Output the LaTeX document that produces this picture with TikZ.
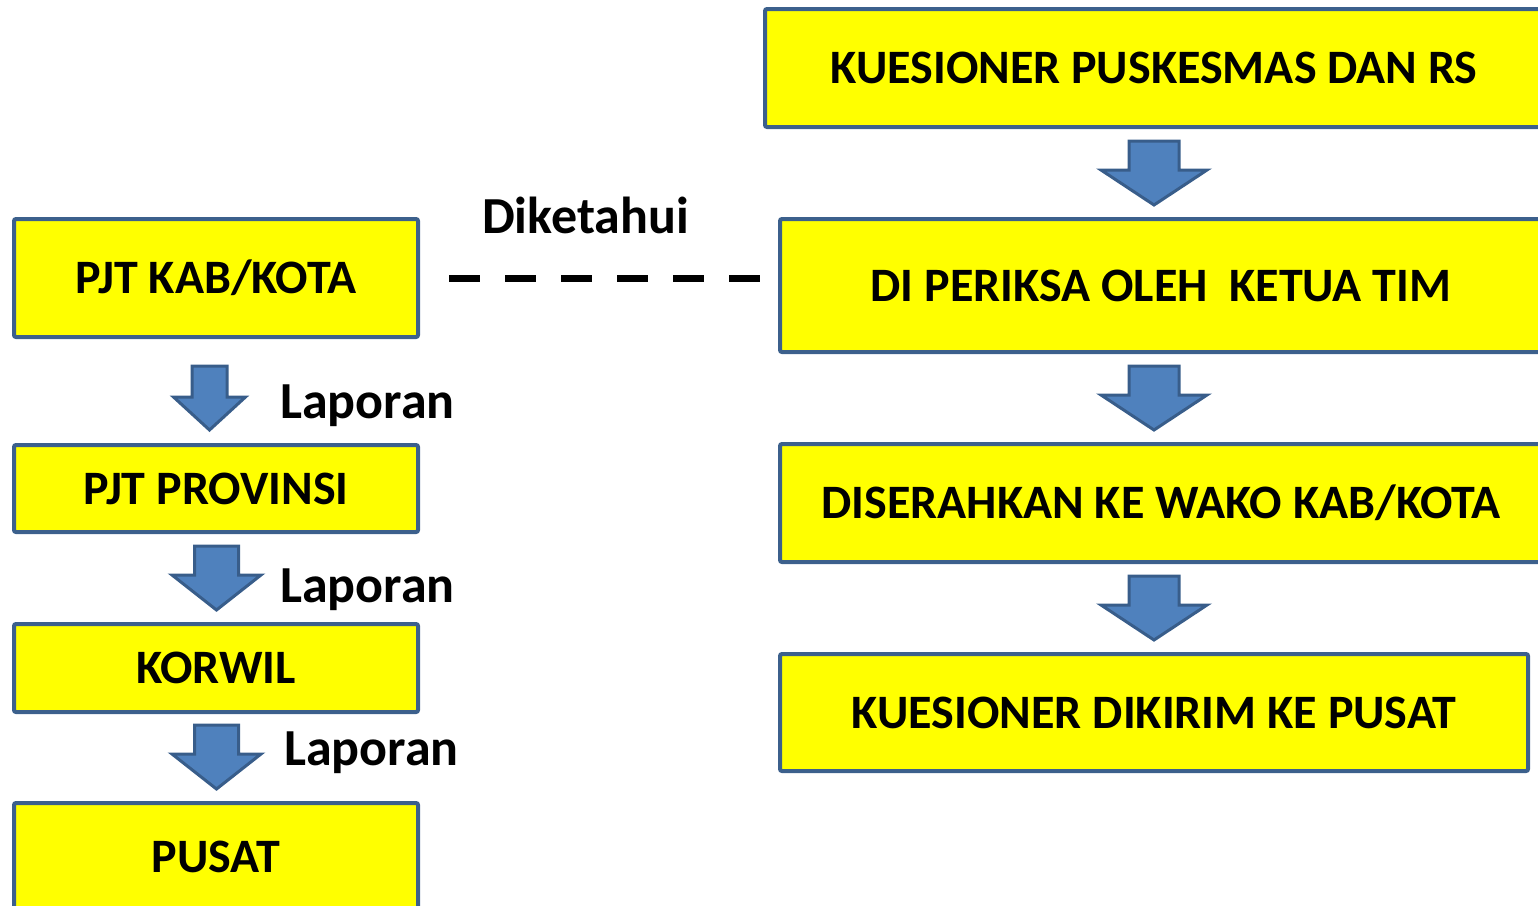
\documentclass[tikz,border=0pt]{standalone}
\usepackage{fontspec}
\setmainfont{Carlito}
\usetikzlibrary{positioning, calc}

\definecolor{boxyellow}{RGB}{255,255,0}
\definecolor{boxborder}{RGB}{60,96,140}
\definecolor{arrowblue}{RGB}{79,129,189}
\definecolor{arrowedge}{RGB}{56,93,138}

% block arrow pointing down: top point, half shaft, half head, head length
\newcommand{\blockdown}[4]{%
  \draw[blockarrow] (#1) ++(-#2,0) -- ++(0,64-#4) -- ++(#2-#3,0) -- ++(#3,#4)
    -- ++(#3,-#4) -- ++(#2-#3,0) -- ++(0,-64+#4) -- cycle;}

\begin{document}
\begin{tikzpicture}[x=1pt, y=-1pt,
  flowbox/.style={rectangle, draw=boxborder, line width=4pt, fill=boxyellow, rounded corners=2pt, align=center, inner sep=0pt, text height=31pt, text depth=0pt, font=\fontsize{48}{57}\selectfont\bfseries},
  blockarrow/.style={draw=arrowedge, fill=arrowblue, line width=3pt, line join=miter},
  note/.style={anchor=base west, inner sep=0pt, font=\fontsize{52}{62}\selectfont\bfseries},
  dashline/.style={line width=7pt, dash pattern=on 31pt off 25pt}
]
  \clip (0,0) rectangle (1538,905);

  % left column
  \node[flowbox, minimum width=404pt, minimum height=118pt] (pjtkab) at (216,278) {PJT KAB/KOTA};
  \node[flowbox, minimum width=404pt, minimum height=87pt, below=104pt of pjtkab] (pjtprov) {PJT PROVINSI};
  \node[flowbox, minimum width=404pt, minimum height=88pt, below=88pt of pjtprov] (korwil) {KORWIL};
  \node[flowbox, minimum width=404pt, minimum height=108pt, below=87pt of korwil] (pusat) {PUSAT};

  % right column
  \node[flowbox, minimum width=778pt, minimum height=118pt] (kuesioner) at (1154,68) {KUESIONER PUSKESMAS DAN RS};
  \node[flowbox, minimum width=762pt, minimum height=133pt, below=88pt of kuesioner, xshift=7pt] (periksa) {DI PERIKSA OLEH\ \ KETUA TIM};
  \node[flowbox, minimum width=762pt, minimum height=118pt, below=88pt of periksa] (serah) {DISERAHKAN KE WAKO KAB/KOTA};
  \node[flowbox, minimum width=748pt, minimum height=117pt, below=88pt of serah, xshift=-7pt] (kirim) {KUESIONER DIKIRIM KE PUSAT};

  % arrows
  \coordinate (arrA) at ($(pjtkab.south)+(-6.5,27)$);
  \coordinate (arrB) at ($(pjtprov.south)+(0.5,12)$);
  \coordinate (arrC) at ($(korwil.south)+(0.5,11)$);
  \coordinate (arrD) at ($(kuesioner.south)+(0,12)$);
  \coordinate (arrE) at ($(periksa.south)+(-7,12)$);
  \coordinate (arrF) at ($(serah.south)+(-7,12)$);
  \blockdown{arrA}{17.5}{36}{33}
  \blockdown{arrB}{22}{44.5}{35}
  \blockdown{arrC}{22}{44.5}{35}
  \blockdown{arrD}{25}{53}{35}
  \blockdown{arrE}{25}{53}{35}
  \blockdown{arrF}{25}{53}{35}

  \node[note] (lap1) at (280,418) {Laporan};
  \node[note] (lap2) at (280,602) {Laporan};
  \node[note] (lap3) at (284,765) {Laporan};

  % dashed link
  \draw[dashline, shorten <=29pt, shorten >=18pt] (pjtkab.east) -- (pjtkab.east -| periksa.west);
  \node[note] (tahu) at (482,233) {Diketahui};
\end{tikzpicture}
\end{document}
